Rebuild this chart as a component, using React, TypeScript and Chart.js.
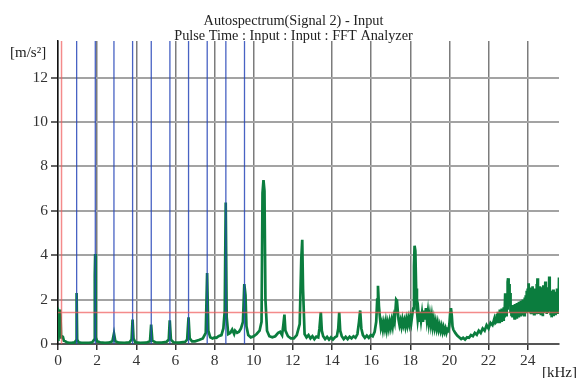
import React, { useEffect, useRef } from "react";
import { Chart, registerables } from "chart.js";

Chart.register(...registerables);

const TITLE_LINE_1 = "Autospectrum(Signal 2) - Input";
const TITLE_LINE_2 = "Pulse Time : Input : Input : FFT Analyzer";
const Y_UNIT = "[m/s²]";
const X_UNIT = "[kHz]";

const X_MAX = 25.6;
const Y_MAX = 13.65;
const X_TICKS = [0, 2, 4, 6, 8, 10, 12, 14, 16, 18, 20, 22, 24];
const Y_TICKS = [0, 2, 4, 6, 8, 10, 12];

// harmonic cursor (blue) positions in kHz
const HARMONICS_KHZ = [0.953, 1.906, 2.859, 3.812, 4.765, 5.718, 6.671, 7.624, 8.577, 9.53];
// red cursors
const RED_CURSOR_KHZ = 0.18;
const RED_LEVEL = 1.42;

// spectrum: frequency (kHz)
const FREQ_KHZ = [
  0, 0.02, 0.06, 0.1, 0.13, 0.16, 0.2, 0.25, 0.3, 0.38, 0.45, 0.55, 0.7, 0.85, 0.92, 0.95, 0.98,
  1.05, 1.2, 1.4, 1.6, 1.75, 1.85, 1.88, 1.9, 1.93, 2.0, 2.15, 2.4, 2.6, 2.78, 2.86, 2.93,
  3.1, 3.4, 3.65, 3.76, 3.81, 3.86, 3.95, 4.2, 4.5, 4.7, 4.76, 4.82, 5.0, 5.3, 5.55, 5.66, 5.71, 5.77,
  5.9, 6.2, 6.5, 6.6, 6.67, 6.73, 6.85, 7.0, 7.2, 7.4, 7.55, 7.62, 7.68, 7.78, 7.9,
  8.0, 8.1, 8.2, 8.35, 8.45, 8.52, 8.57, 8.62, 8.7, 8.8, 8.9, 9.0, 9.05, 9.15, 9.25, 9.35, 9.45,
  9.52, 9.58, 9.63, 9.72, 9.85, 10.0, 10.15, 10.3, 10.4, 10.45, 10.5, 10.55, 10.6, 10.68, 10.8, 10.95,
  11.1, 11.25, 11.35, 11.45, 11.52, 11.57, 11.62, 11.75, 11.9, 12.05, 12.2, 12.35, 12.43, 12.48, 12.52,
  12.6, 12.7, 12.8, 12.9, 13.0, 13.1, 13.2, 13.3, 13.36, 13.43, 13.48, 13.55, 13.65, 13.75, 13.85, 13.95,
  14.05, 14.15, 14.25, 14.32, 14.37, 14.42, 14.5, 14.6, 14.7, 14.8, 14.9, 15.0, 15.1, 15.2, 15.3, 15.38, 15.44,
  15.5, 15.58, 15.68, 15.78, 15.88, 15.98, 16.08, 16.18, 16.26, 16.31, 16.35, 16.4,
  16.45, 16.5, 16.55, 16.6, 16.65, 16.7, 16.75, 16.8, 16.85, 16.9, 16.95, 17.0, 17.05, 17.1, 17.15, 17.2, 17.25,
  17.28, 17.32, 17.36, 17.4, 17.45, 17.5, 17.55, 17.6, 17.65, 17.7, 17.75, 17.8, 17.85, 17.9, 17.95, 18.0, 18.05, 18.1,
  18.15, 18.19, 18.22, 18.26, 18.3, 18.34, 18.38, 18.42, 18.46, 18.5, 18.55, 18.6, 18.65, 18.7, 18.75, 18.8, 18.85,
  18.9, 18.95, 19.0, 19.05, 19.1, 19.15, 19.2, 19.25, 19.3, 19.35, 19.4, 19.45, 19.5, 19.55, 19.6, 19.65, 19.7,
  19.75, 19.8, 19.85, 19.9, 19.95, 20.0, 20.04, 20.08, 20.12, 20.16, 20.2, 20.3, 20.4, 20.5, 20.6, 20.7, 20.8,
  20.9, 21.0, 21.1, 21.2, 21.3, 21.4, 21.5, 21.6, 21.7, 21.8, 21.9, 22.0, 22.1, 22.2, 22.3, 22.35,
  22.4, 22.425, 22.45, 22.475, 22.5, 22.525, 22.55, 22.575, 22.6, 22.625,
  22.65, 22.675, 22.7, 22.725, 22.75, 22.775, 22.8, 22.825, 22.85, 22.875,
  22.9, 22.925, 22.95, 22.975, 23.0, 23.025, 23.05, 23.075, 23.1, 23.125,
  23.15, 23.175, 23.2, 23.225, 23.25, 23.275, 23.3, 23.325, 23.35, 23.375,
  23.4, 23.425, 23.45, 23.475, 23.5, 23.525, 23.55, 23.575, 23.6, 23.625,
  23.65, 23.675, 23.7, 23.725, 23.75, 23.775, 23.8, 23.825, 23.85, 23.875,
  23.9, 23.925, 23.95, 23.975, 24.0, 24.025, 24.05, 24.075, 24.1, 24.125,
  24.15, 24.175, 24.2, 24.225, 24.25, 24.275, 24.3, 24.325, 24.35, 24.375,
  24.4, 24.425, 24.45, 24.475, 24.5, 24.525, 24.55, 24.575, 24.6, 24.625,
  24.65, 24.675, 24.7, 24.725, 24.75, 24.775, 24.8, 24.825, 24.85, 24.875,
  24.9, 24.925, 24.95, 24.975, 25.0, 25.025, 25.05, 25.075, 25.1, 25.125,
  25.15, 25.175, 25.2, 25.225, 25.25, 25.275, 25.3, 25.325, 25.35, 25.375,
  25.4, 25.425, 25.45, 25.475, 25.5, 25.525, 25.55, 25.575, 25.6,
];
// spectrum: amplitude (m/s²)
const ACCEL = [
  0.2, 1.52, 1.45, 1.55, 1.2, 0.3, 0.35, 0.32, 0.15, 0.12, 0.08, 0.05, 0.05, 0.07, 0.15, 2.3, 0.2,
  0.08, 0.05, 0.05, 0.05, 0.08, 0.2, 3.1, 4.05, 0.3, 0.12, 0.08, 0.05, 0.06, 0.12, 0.47, 0.12,
  0.06, 0.05, 0.08, 0.2, 1.1, 0.25, 0.08, 0.05, 0.06, 0.12, 0.87, 0.15, 0.07, 0.06, 0.1, 0.2, 1.07, 0.2,
  0.08, 0.06, 0.1, 0.2, 1.2, 0.25, 0.12, 0.12, 0.18, 0.25, 0.5, 3.2, 0.6, 0.3, 0.25,
  0.3, 0.28, 0.35, 0.4, 0.7, 1.5, 6.37, 1.2, 0.45, 0.5, 0.65, 0.45, 0.6, 0.5, 0.55, 0.7, 1.0,
  2.7, 2.2, 0.8, 0.4, 0.3, 0.35, 0.45, 0.6, 1.0, 6.8, 7.38, 6.9, 2.0, 0.6, 0.35, 0.3,
  0.35, 0.5, 0.55, 0.4, 0.9, 1.32, 0.6, 0.35, 0.25, 0.25, 0.4, 0.9, 3.8, 4.69, 2.5,
  0.45, 0.3, 0.4, 0.25, 0.35, 0.22, 0.33, 0.3, 0.7, 1.44, 0.6, 0.35, 0.22, 0.32, 0.2, 0.3,
  0.2, 0.3, 0.35, 0.7, 1.43, 0.6, 0.35, 0.22, 0.32, 0.22, 0.33, 0.25, 0.35, 0.28, 0.45, 1.0, 1.51,
  0.7, 0.4, 0.28, 0.38, 0.28, 0.4, 0.35, 0.55, 1.0, 2.0, 2.62, 1.7,
  1.2, 0.75, 0.95, 0.65, 0.95, 0.7, 1.0, 0.65, 0.95, 0.7, 1.0, 0.75, 1.05, 0.8, 1.2, 1.0, 1.6,
  2.0, 1.95, 1.5, 1.1, 0.85, 1.05, 0.8, 1.1, 0.85, 1.05, 0.8, 1.1, 0.85, 1.15, 0.9, 1.2, 0.95, 1.3,
  1.6, 3.5, 4.43, 4.2, 2.5, 1.5, 1.1, 1.4, 1.0, 1.45, 1.05, 1.4, 1.0, 1.5, 1.1, 1.62, 1.1,
  1.45, 0.95, 1.3, 0.9, 1.25, 0.8, 1.1, 0.75, 1.0, 0.7, 0.95, 0.65, 0.85, 0.6, 0.8, 0.55, 0.75,
  0.55, 0.7, 0.5, 0.65, 0.6, 0.9, 1.4, 1.62, 1.3, 0.8, 0.65, 0.5, 0.38, 0.3, 0.22, 0.28, 0.2,
  0.3, 0.28, 0.4, 0.35, 0.5, 0.42, 0.6, 0.5, 0.7, 0.6, 0.85, 0.7, 0.95, 0.85, 1.15, 0.95,
  1.0, 1.35, 1.05, 1.45, 1.1, 1.3, 1.0, 1.55, 1.15, 1.4,
  1.05, 1.6, 1.2, 1.45, 1.1, 1.65, 1.25, 1.5, 2.29, 1.7,
  1.3, 1.9, 1.6, 2.8, 2.96, 2.1, 2.7, 1.7, 2.3, 1.4,
  1.7, 1.25, 1.65, 1.2, 1.75, 1.3, 1.6, 1.15, 1.8, 1.3,
  1.65, 1.2, 1.85, 1.35, 1.7, 1.25, 1.9, 1.4, 1.75, 1.3,
  1.95, 1.45, 1.8, 1.35, 2.0, 1.4, 1.85, 1.3, 2.1, 1.5,
  2.2, 1.45, 2.4, 1.55, 2.5, 1.6, 2.74, 1.5, 2.4, 1.45,
  2.55, 1.4, 2.3, 1.55, 2.6, 1.45, 2.35, 1.35, 2.5, 1.5,
  2.3, 1.4, 2.7, 1.55, 2.96, 1.5, 2.45, 1.35, 2.6, 1.45,
  2.25, 1.3, 2.55, 1.45, 2.35, 1.25, 2.65, 1.4, 2.4, 1.5,
  2.82, 1.45, 2.3, 1.35, 2.55, 1.4, 2.25, 1.5, 3.04, 1.55,
  2.4, 1.3, 2.35, 1.2, 2.2, 1.35, 2.45, 1.25, 2.15, 1.4,
  2.35, 1.3, 2.25, 1.45, 2.5, 1.35, 2.4, 1.6, 3.0,
];

const FONT = '"Liberation Serif", "Times New Roman", serif';

const textPlugin = {
  id: "texts",
  afterDraw(chart: any) {
    const ctx = chart.ctx;
    ctx.save();
    ctx.fillStyle = "#222";
    ctx.textBaseline = "alphabetic";
    ctx.textAlign = "center";
    ctx.font = `14.3px ${FONT}`;
    ctx.fillText(TITLE_LINE_1, chart.width / 2, 25);
    ctx.fillText(TITLE_LINE_2, chart.width / 2, 40);
    ctx.textAlign = "left";
    ctx.font = `15px ${FONT}`;
    ctx.fillText(Y_UNIT, 10, 57);
    ctx.fillText(X_UNIT, 542, 377);
    ctx.restore();
  },
};

export default function App() {
  const ref = useRef<HTMLCanvasElement | null>(null);

  useEffect(() => {
    document.body.style.margin = "0";
    const canvas = ref.current;
    if (!canvas) return;

    const n = Math.min(FREQ_KHZ.length, ACCEL.length);
    const spectrum = FREQ_KHZ.slice(0, n).map((f, i) => ({ x: f, y: ACCEL[i] }));
    const harmonics: any[] = [];
    HARMONICS_KHZ.forEach((h) => {
      harmonics.push({ x: h, y: 0 }, { x: h, y: Y_MAX }, { x: h, y: null });
    });
    const red = [
      { x: RED_CURSOR_KHZ, y: 0 },
      { x: RED_CURSOR_KHZ, y: Y_MAX },
      { x: RED_CURSOR_KHZ, y: null },
      { x: 0, y: RED_LEVEL },
      { x: X_MAX, y: RED_LEVEL },
    ];

    const chart = new Chart(canvas, {
      type: "line",
      data: {
        datasets: [
          {
            data: red as any,
            borderColor: "rgba(240,90,90,0.7)",
            borderWidth: 1.5,
            pointRadius: 0,
            spanGaps: false,
            order: 0,
          },
          {
            data: harmonics,
            borderColor: "rgba(40,70,185,0.85)",
            borderWidth: 1.3,
            pointRadius: 0,
            spanGaps: false,
            order: 1,
          },
          {
            data: spectrum,
            borderColor: "#0b7d3e",
            borderWidth: 2.7,
            pointRadius: 0,
            tension: 0,
            order: 2,
          },
        ],
      },
      options: {
        animation: false,
        responsive: false,
        devicePixelRatio: 1,
        layout: { padding: { left: 0, right: 28, top: 41, bottom: 0 } },
        plugins: {
          legend: { display: false },
          tooltip: { enabled: false },
          title: { display: false },
        },
        scales: {
          x: {
            type: "linear",
            min: 0,
            max: X_MAX,
            afterFit: (s: any) => {
              s.height = 34;
            },
            afterBuildTicks: (s: any) => {
              s.ticks = X_TICKS.map((v) => ({ value: v }));
            },
            grid: {
              color: "#7c7c7c",
              lineWidth: 1.5,
              tickLength: 6,
              tickColor: "#333",
              tickWidth: 1.5,
            },
            border: { color: "#555", width: 2 },
            ticks: {
              font: { family: FONT, size: 15.5 },
              color: "#333",
              padding: 2,
              maxRotation: 0,
              autoSkip: false,
            },
          },
          y: {
            type: "linear",
            min: 0,
            max: Y_MAX,
            afterFit: (s: any) => {
              s.width = 58;
            },
            afterBuildTicks: (s: any) => {
              s.ticks = Y_TICKS.map((v) => ({ value: v }));
            },
            grid: {
              color: "#a3a3a3",
              lineWidth: 2,
              tickLength: 7,
              tickColor: "#333",
              tickWidth: 1.5,
            },
            border: { color: "#111", width: 1.5 },
            ticks: {
              font: { family: FONT, size: 15.5 },
              color: "#333",
              padding: 3,
              autoSkip: false,
            },
          },
        },
      },
      plugins: [textPlugin],
    });

    return () => chart.destroy();
  }, []);

  return (
    <div style={{ width: 587, height: 378 }}>
      <canvas ref={ref} width={587} height={378} style={{ display: "block" }} />
    </div>
  );
}
